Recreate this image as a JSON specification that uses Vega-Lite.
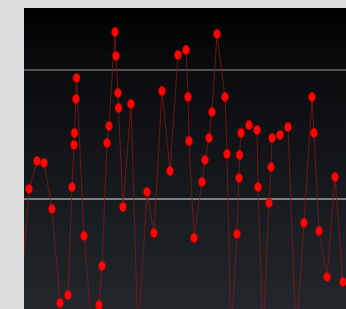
{
  "$schema": "https://vega.github.io/schema/vega-lite/v6.json",
  "width": 322,
  "height": 301,
  "autosize": {"type": "none"},
  "padding": {"left": 24, "top": 8, "right": 0, "bottom": 0},
  "background": "#dcdcdc",
  "config": {"view": {"stroke": null}},
  "data": {"values": [
    {"t": -5, "v": -93.8}, {"t": 5, "v": 7.75}, {"t": 13, "v": 29.46}, {"t": 20, "v": 27.91},
    {"t": 28, "v": -7.75}, {"t": 36, "v": -80.6}, {"t": 44, "v": -74.4}, {"t": 48, "v": 9.3},
    {"t": 50, "v": 41.9}, {"t": 50.5, "v": 51.2}, {"t": 52, "v": 77.5}, {"t": 52.5, "v": 93.8},
    {"t": 60, "v": -28.7}, {"t": 69, "v": -109.3}, {"t": 75, "v": -82.2}, {"t": 78, "v": -51.9},
    {"t": 83, "v": 43.4}, {"t": 85, "v": 56.6}, {"t": 91, "v": 129.5}, {"t": 92, "v": 110.9},
    {"t": 94, "v": 82.2}, {"t": 94.5, "v": 70.5}, {"t": 99, "v": -6.2}, {"t": 107, "v": 73.6},
    {"t": 114, "v": -109.3}, {"t": 123, "v": 5.4}, {"t": 130, "v": -26.4}, {"t": 138, "v": 83.7},
    {"t": 146, "v": 21.7}, {"t": 154, "v": 111.6}, {"t": 162, "v": 115.5}, {"t": 164, "v": 79.1},
    {"t": 165, "v": 45.0}, {"t": 170, "v": -30.2}, {"t": 178, "v": 13.2}, {"t": 181, "v": 30.2},
    {"t": 185, "v": 47.3}, {"t": 188, "v": 67.4}, {"t": 193, "v": 127.9}, {"t": 201, "v": 79.1},
    {"t": 203, "v": 34.9}, {"t": 207, "v": -109.3}, {"t": 213, "v": -27.1}, {"t": 215, "v": 16.3},
    {"t": 215.5, "v": 34.1}, {"t": 217, "v": 51.2}, {"t": 225, "v": 57.4}, {"t": 233, "v": 53.5},
    {"t": 234, "v": 9.3}, {"t": 239, "v": -109.3}, {"t": 245, "v": -3.1}, {"t": 247, "v": 24.8},
    {"t": 248, "v": 47.3}, {"t": 256, "v": 49.6}, {"t": 264, "v": 55.8}, {"t": 272, "v": -109.3},
    {"t": 280, "v": -18.6}, {"t": 288, "v": 79.1}, {"t": 290, "v": 51.2}, {"t": 295, "v": -24.8},
    {"t": 303, "v": -60.5}, {"t": 311, "v": 17.1}, {"t": 319, "v": -64.3}
  ]},
  "encoding": {
    "x": {"field": "t", "type": "quantitative", "scale": {"domain": [0, 322], "nice": false, "zero": false}, "axis": null},
    "y": {"field": "v", "type": "quantitative", "scale": {"domain": [-85.27, 148.06], "nice": false, "zero": false}, "axis": null}
  },
  "layer": [
    {
      "mark": {"type": "rect", "clip": true, "fill": {"gradient": "linear", "x1": 0, "y1": 0, "x2": 0, "y2": 1, "stops": [{"offset": 0, "color": "#000000"}, {"offset": 0.05, "color": "#030304"}, {"offset": 0.15, "color": "#08090b"}, {"offset": 1, "color": "#23272c"}]}},
      "encoding": {
        "x": {"datum": 0, "type": "quantitative"},
        "x2": {"datum": 322},
        "y": {"datum": -85.27, "type": "quantitative"},
        "y2": {"datum": 148.06}
      }
    },
    {
      "mark": {"type": "rule", "stroke": "#515151", "strokeWidth": 2},
      "encoding": {"y": {"datum": 100, "type": "quantitative"}, "x": {"value": 0}, "x2": {"value": 322}}
    },
    {
      "mark": {"type": "rule", "stroke": "#7e7f80", "strokeWidth": 2},
      "encoding": {"y": {"datum": 0, "type": "quantitative"}, "x": {"value": 0}, "x2": {"value": 322}}
    },
    {
      "mark": {"type": "line", "clip": true, "stroke": "#8a1818", "strokeWidth": 1, "opacity": 0.75}
    },
    {
      "mark": {"type": "point", "clip": true, "filled": true, "shape": "M-0.75,0A0.75,1 0 1,1 0.75,0A0.75,1 0 1,1 -0.75,0Z", "size": 90, "fill": "#ff0505", "opacity": 1, "stroke": "#b00000", "strokeWidth": 0.5}
    }
  ]
}
